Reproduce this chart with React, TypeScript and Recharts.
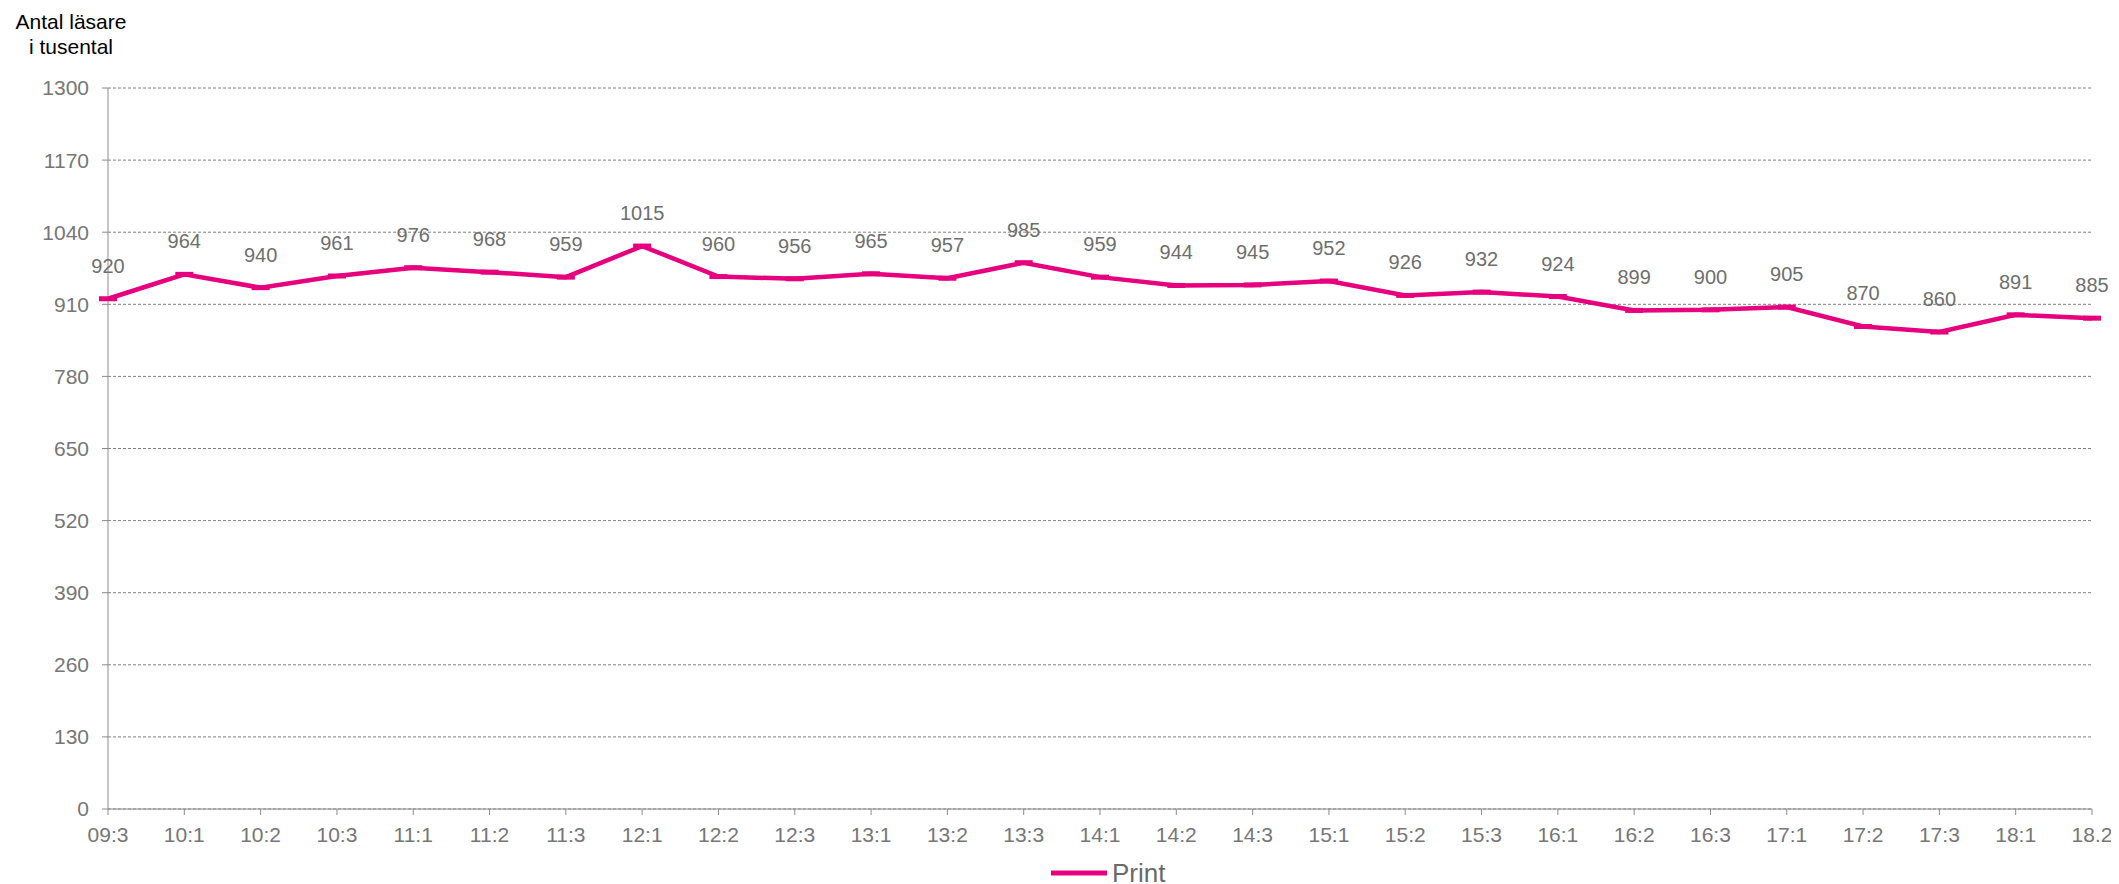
import React from "react";
import { LineChart, Line, XAxis, YAxis, CartesianGrid, Legend, LabelList } from "recharts";

const categories = ["09:3","10:1","10:2","10:3","11:1","11:2","11:3","12:1","12:2","12:3","13:1","13:2","13:3","14:1","14:2","14:3","15:1","15:2","15:3","16:1","16:2","16:3","17:1","17:2","17:3","18:1","18.2"];
const printValues = [920,964,940,961,976,968,959,1015,960,956,965,957,985,959,944,945,952,926,932,924,899,900,905,870,860,891,885];
const yTicks = [0,130,260,390,520,650,780,910,1040,1170,1300];
const seriesName = "Print";
const axisTitle = ["Antal läsare", "i tusental"];

const data = categories.map((c, i) => ({ cat: c, print: printValues[i] }));

const FONT = '"Liberation Sans", Arial, sans-serif';
const PINK = "#E6007E";
const GRAY = "#767676";
const AXIS = "#8c8c8c";

const Dash = (props: any) => {
  const { cx, cy, index } = props;
  if (cx == null || cy == null) return null;
  return <rect key={`d${index}`} x={cx - 9} y={cy - 2.5} width={18} height={5} fill={PINK} />;
};

const LegendContent = () => (
  <div style={{ display: "flex", alignItems: "center", height: 30, fontFamily: FONT }}>
    <svg width={56} height={10} style={{ display: "block" }}>
      <line x1={0} y1={5} x2={56} y2={5} stroke={PINK} strokeWidth={5} strokeLinecap="round" />
    </svg>
    <span style={{ marginLeft: 5, fontSize: 26, lineHeight: "30px", color: "#6a6a6a" }}>{seriesName}</span>
  </div>
);

export default function App() {
  return (
    <div style={{ position: "relative", width: 2111, height: 876, fontFamily: FONT }}>
      <div
        style={{
          position: "absolute",
          left: 0,
          top: 0.5,
          width: 126,
          textAlign: "center",
          fontSize: 21,
          lineHeight: "25px",
          color: "#000",
          fontFamily: FONT,
          zIndex: 2,
        }}
      >
        <div>{axisTitle[0]}</div>
        <div>{axisTitle[1]}</div>
      </div>
      <LineChart
        width={2111}
        height={876}
        data={data}
        margin={{ top: 80, right: 27, bottom: 0, left: 0 }}
      >
        <CartesianGrid vertical={false} stroke="#808080" strokeDasharray="3 2" />
        <XAxis
          dataKey="cat"
          height={75}
          interval={0}
          tickSize={6}
          tickMargin={12}
          axisLine={{ stroke: AXIS }}
          tickLine={{ stroke: AXIS }}
          tick={{ fill: GRAY, fontSize: 21, fontFamily: FONT }}
          padding={{ left: 0, right: 0 }}
        />
        <YAxis
          width={100}
          domain={[0, 1300]}
          ticks={yTicks}
          interval={0}
          tickSize={6}
          tickMargin={13}
          axisLine={{ stroke: AXIS }}
          tickLine={{ stroke: AXIS }}
          tick={{ fill: GRAY, fontSize: 21, fontFamily: FONT }}
        />
        <Legend
          verticalAlign="middle"
          align="center"
          layout="horizontal"
          wrapperStyle={{ top: 850, left: 1043, width: "auto" }}
          content={<LegendContent />}
        />
        <Line
          type="linear"
          dataKey="print"
          name={seriesName}
          stroke={PINK}
          strokeWidth={4.5}
          dot={<Dash />}
          activeDot={false}
          isAnimationActive={false}
        >
          <LabelList dataKey="print" position="top" offset={26} fill="#6e6e6e" fontSize={20} fontFamily={FONT} />
        </Line>
      </LineChart>
    </div>
  );
}
